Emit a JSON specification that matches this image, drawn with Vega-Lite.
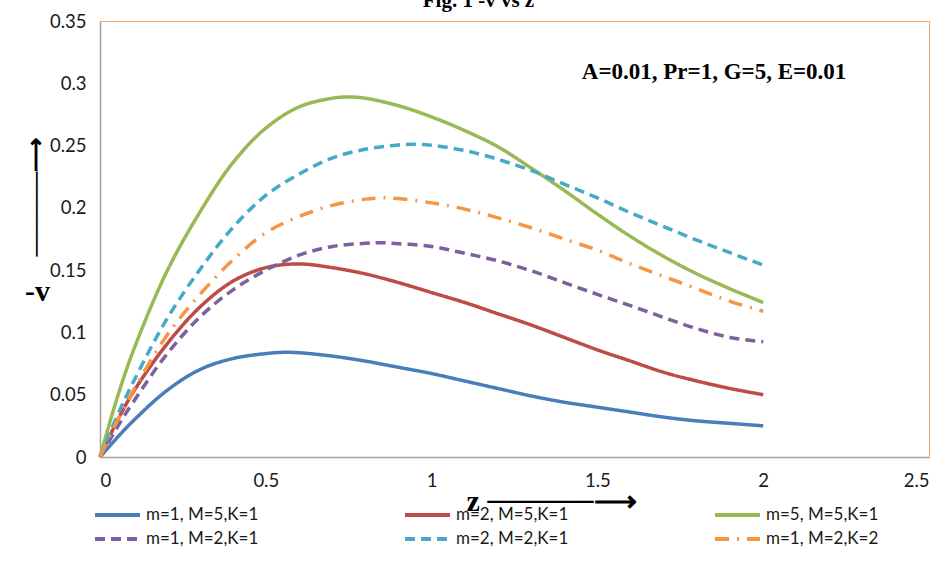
{
  "$schema": "https://vega.github.io/schema/vega-lite/v6.json",
  "width": 829,
  "height": 436,
  "autosize": {"type": "none"},
  "padding": {"left": 100, "top": 21, "right": 14, "bottom": 130},
  "background": "white",
  "title": {
    "text": "Fig. 1 -v vs z",
    "font": "Liberation Serif",
    "fontSize": 21,
    "fontWeight": "bold",
    "color": "#000000",
    "anchor": "middle",
    "frame": "group",
    "baseline": "alphabetic",
    "offset": -16,
    "dx": -36
  },
  "config": {
    "view": {"stroke": "#F2A66A", "strokeWidth": 1},
    "axis": {
      "grid": false,
      "ticks": false,
      "domainColor": "#A6A29C",
      "domainWidth": 1.5,
      "labelFont": "Lato",
      "labelFontSize": 18.5,
      "labelColor": "#1a1a1a",
      "format": "~g"
    },
    "legend": {
      "title": null,
      "orient": "none",
      "legendX": -7,
      "legendY": 484,
      "columns": 3,
      "direction": "horizontal",
      "gridAlign": "all",
      "columnPadding": 144,
      "rowPadding": 4,
      "clipHeight": 20,
      "symbolType": "stroke",
      "symbolStrokeWidth": 4,
      "symbolSize": 2025,
      "labelOffset": 4,
      "labelFont": "Lato",
      "labelFontSize": 17,
      "labelColor": "#1a1a1a"
    }
  },
  "layer": [
    {
      "data": {
        "values": [
          {"series": "m=1, M=5,K=1", "z": 0, "v": 0},
          {"series": "m=1, M=5,K=1", "z": 0.05, "v": 0.015},
          {"series": "m=1, M=5,K=1", "z": 0.1, "v": 0.029},
          {"series": "m=1, M=5,K=1", "z": 0.2, "v": 0.053},
          {"series": "m=1, M=5,K=1", "z": 0.3, "v": 0.07},
          {"series": "m=1, M=5,K=1", "z": 0.4, "v": 0.079},
          {"series": "m=1, M=5,K=1", "z": 0.5, "v": 0.083},
          {"series": "m=1, M=5,K=1", "z": 0.55, "v": 0.084},
          {"series": "m=1, M=5,K=1", "z": 0.6, "v": 0.0837},
          {"series": "m=1, M=5,K=1", "z": 0.7, "v": 0.081},
          {"series": "m=1, M=5,K=1", "z": 0.8, "v": 0.077},
          {"series": "m=1, M=5,K=1", "z": 0.9, "v": 0.072},
          {"series": "m=1, M=5,K=1", "z": 1.0, "v": 0.067},
          {"series": "m=1, M=5,K=1", "z": 1.1, "v": 0.061},
          {"series": "m=1, M=5,K=1", "z": 1.2, "v": 0.055},
          {"series": "m=1, M=5,K=1", "z": 1.3, "v": 0.049},
          {"series": "m=1, M=5,K=1", "z": 1.4, "v": 0.044},
          {"series": "m=1, M=5,K=1", "z": 1.5, "v": 0.04},
          {"series": "m=1, M=5,K=1", "z": 1.6, "v": 0.036},
          {"series": "m=1, M=5,K=1", "z": 1.7, "v": 0.032},
          {"series": "m=1, M=5,K=1", "z": 1.8, "v": 0.029},
          {"series": "m=1, M=5,K=1", "z": 1.9, "v": 0.027},
          {"series": "m=1, M=5,K=1", "z": 2.0, "v": 0.025},

          {"series": "m=2, M=5,K=1", "z": 0, "v": 0},
          {"series": "m=2, M=5,K=1", "z": 0.05, "v": 0.028},
          {"series": "m=2, M=5,K=1", "z": 0.1, "v": 0.052},
          {"series": "m=2, M=5,K=1", "z": 0.2, "v": 0.09},
          {"series": "m=2, M=5,K=1", "z": 0.3, "v": 0.12},
          {"series": "m=2, M=5,K=1", "z": 0.4, "v": 0.141},
          {"series": "m=2, M=5,K=1", "z": 0.5, "v": 0.152},
          {"series": "m=2, M=5,K=1", "z": 0.6, "v": 0.155},
          {"series": "m=2, M=5,K=1", "z": 0.7, "v": 0.152},
          {"series": "m=2, M=5,K=1", "z": 0.8, "v": 0.147},
          {"series": "m=2, M=5,K=1", "z": 0.9, "v": 0.14},
          {"series": "m=2, M=5,K=1", "z": 1.0, "v": 0.132},
          {"series": "m=2, M=5,K=1", "z": 1.1, "v": 0.124},
          {"series": "m=2, M=5,K=1", "z": 1.2, "v": 0.115},
          {"series": "m=2, M=5,K=1", "z": 1.3, "v": 0.106},
          {"series": "m=2, M=5,K=1", "z": 1.4, "v": 0.096},
          {"series": "m=2, M=5,K=1", "z": 1.5, "v": 0.086},
          {"series": "m=2, M=5,K=1", "z": 1.6, "v": 0.077},
          {"series": "m=2, M=5,K=1", "z": 1.7, "v": 0.068},
          {"series": "m=2, M=5,K=1", "z": 1.8, "v": 0.061},
          {"series": "m=2, M=5,K=1", "z": 1.9, "v": 0.055},
          {"series": "m=2, M=5,K=1", "z": 2.0, "v": 0.05},

          {"series": "m=5, M=5,K=1", "z": 0, "v": 0},
          {"series": "m=5, M=5,K=1", "z": 0.05, "v": 0.046},
          {"series": "m=5, M=5,K=1", "z": 0.1, "v": 0.085},
          {"series": "m=5, M=5,K=1", "z": 0.2, "v": 0.148},
          {"series": "m=5, M=5,K=1", "z": 0.3, "v": 0.196},
          {"series": "m=5, M=5,K=1", "z": 0.4, "v": 0.236},
          {"series": "m=5, M=5,K=1", "z": 0.5, "v": 0.264},
          {"series": "m=5, M=5,K=1", "z": 0.6, "v": 0.281},
          {"series": "m=5, M=5,K=1", "z": 0.7, "v": 0.288},
          {"series": "m=5, M=5,K=1", "z": 0.75, "v": 0.289},
          {"series": "m=5, M=5,K=1", "z": 0.8, "v": 0.288},
          {"series": "m=5, M=5,K=1", "z": 0.9, "v": 0.282},
          {"series": "m=5, M=5,K=1", "z": 1.0, "v": 0.273},
          {"series": "m=5, M=5,K=1", "z": 1.1, "v": 0.262},
          {"series": "m=5, M=5,K=1", "z": 1.2, "v": 0.249},
          {"series": "m=5, M=5,K=1", "z": 1.3, "v": 0.232},
          {"series": "m=5, M=5,K=1", "z": 1.4, "v": 0.214},
          {"series": "m=5, M=5,K=1", "z": 1.5, "v": 0.195},
          {"series": "m=5, M=5,K=1", "z": 1.6, "v": 0.177},
          {"series": "m=5, M=5,K=1", "z": 1.7, "v": 0.161},
          {"series": "m=5, M=5,K=1", "z": 1.8, "v": 0.147},
          {"series": "m=5, M=5,K=1", "z": 1.9, "v": 0.135},
          {"series": "m=5, M=5,K=1", "z": 2.0, "v": 0.124},

          {"series": "m=1, M=2,K=1", "z": 0, "v": 0},
          {"series": "m=1, M=2,K=1", "z": 0.05, "v": 0.023},
          {"series": "m=1, M=2,K=1", "z": 0.1, "v": 0.044},
          {"series": "m=1, M=2,K=1", "z": 0.2, "v": 0.082},
          {"series": "m=1, M=2,K=1", "z": 0.3, "v": 0.112},
          {"series": "m=1, M=2,K=1", "z": 0.4, "v": 0.134},
          {"series": "m=1, M=2,K=1", "z": 0.5, "v": 0.15},
          {"series": "m=1, M=2,K=1", "z": 0.6, "v": 0.162},
          {"series": "m=1, M=2,K=1", "z": 0.7, "v": 0.169},
          {"series": "m=1, M=2,K=1", "z": 0.8, "v": 0.1715},
          {"series": "m=1, M=2,K=1", "z": 0.85, "v": 0.172},
          {"series": "m=1, M=2,K=1", "z": 0.9, "v": 0.1712},
          {"series": "m=1, M=2,K=1", "z": 1.0, "v": 0.169},
          {"series": "m=1, M=2,K=1", "z": 1.1, "v": 0.1635},
          {"series": "m=1, M=2,K=1", "z": 1.2, "v": 0.1575},
          {"series": "m=1, M=2,K=1", "z": 1.3, "v": 0.1495},
          {"series": "m=1, M=2,K=1", "z": 1.4, "v": 0.14},
          {"series": "m=1, M=2,K=1", "z": 1.5, "v": 0.1305},
          {"series": "m=1, M=2,K=1", "z": 1.6, "v": 0.1215},
          {"series": "m=1, M=2,K=1", "z": 1.7, "v": 0.112},
          {"series": "m=1, M=2,K=1", "z": 1.8, "v": 0.103},
          {"series": "m=1, M=2,K=1", "z": 1.9, "v": 0.096},
          {"series": "m=1, M=2,K=1", "z": 2.0, "v": 0.0925},

          {"series": "m=2, M=2,K=1", "z": 0, "v": 0},
          {"series": "m=2, M=2,K=1", "z": 0.05, "v": 0.032},
          {"series": "m=2, M=2,K=1", "z": 0.1, "v": 0.06},
          {"series": "m=2, M=2,K=1", "z": 0.2, "v": 0.11},
          {"series": "m=2, M=2,K=1", "z": 0.3, "v": 0.15},
          {"series": "m=2, M=2,K=1", "z": 0.4, "v": 0.184},
          {"series": "m=2, M=2,K=1", "z": 0.5, "v": 0.21},
          {"series": "m=2, M=2,K=1", "z": 0.6, "v": 0.227},
          {"series": "m=2, M=2,K=1", "z": 0.7, "v": 0.24},
          {"series": "m=2, M=2,K=1", "z": 0.8, "v": 0.247},
          {"series": "m=2, M=2,K=1", "z": 0.9, "v": 0.2505},
          {"series": "m=2, M=2,K=1", "z": 0.95, "v": 0.251},
          {"series": "m=2, M=2,K=1", "z": 1.0, "v": 0.2503},
          {"series": "m=2, M=2,K=1", "z": 1.1, "v": 0.246},
          {"series": "m=2, M=2,K=1", "z": 1.2, "v": 0.239},
          {"series": "m=2, M=2,K=1", "z": 1.3, "v": 0.23},
          {"series": "m=2, M=2,K=1", "z": 1.4, "v": 0.219},
          {"series": "m=2, M=2,K=1", "z": 1.5, "v": 0.208},
          {"series": "m=2, M=2,K=1", "z": 1.6, "v": 0.196},
          {"series": "m=2, M=2,K=1", "z": 1.7, "v": 0.185},
          {"series": "m=2, M=2,K=1", "z": 1.8, "v": 0.174},
          {"series": "m=2, M=2,K=1", "z": 1.9, "v": 0.164},
          {"series": "m=2, M=2,K=1", "z": 2.0, "v": 0.154},

          {"series": "m=1, M=2,K=2", "z": 0, "v": 0},
          {"series": "m=1, M=2,K=2", "z": 0.05, "v": 0.028},
          {"series": "m=1, M=2,K=2", "z": 0.1, "v": 0.053},
          {"series": "m=1, M=2,K=2", "z": 0.2, "v": 0.097},
          {"series": "m=1, M=2,K=2", "z": 0.3, "v": 0.13},
          {"series": "m=1, M=2,K=2", "z": 0.4, "v": 0.158},
          {"series": "m=1, M=2,K=2", "z": 0.5, "v": 0.18},
          {"series": "m=1, M=2,K=2", "z": 0.6, "v": 0.193},
          {"series": "m=1, M=2,K=2", "z": 0.7, "v": 0.202},
          {"series": "m=1, M=2,K=2", "z": 0.8, "v": 0.207},
          {"series": "m=1, M=2,K=2", "z": 0.85, "v": 0.208},
          {"series": "m=1, M=2,K=2", "z": 0.9, "v": 0.2075},
          {"series": "m=1, M=2,K=2", "z": 1.0, "v": 0.204},
          {"series": "m=1, M=2,K=2", "z": 1.1, "v": 0.199},
          {"series": "m=1, M=2,K=2", "z": 1.2, "v": 0.192},
          {"series": "m=1, M=2,K=2", "z": 1.3, "v": 0.184},
          {"series": "m=1, M=2,K=2", "z": 1.4, "v": 0.175},
          {"series": "m=1, M=2,K=2", "z": 1.5, "v": 0.166},
          {"series": "m=1, M=2,K=2", "z": 1.6, "v": 0.155},
          {"series": "m=1, M=2,K=2", "z": 1.7, "v": 0.145},
          {"series": "m=1, M=2,K=2", "z": 1.8, "v": 0.135},
          {"series": "m=1, M=2,K=2", "z": 1.9, "v": 0.125},
          {"series": "m=1, M=2,K=2", "z": 2.0, "v": 0.117}
        ]
      },
      "mark": {"type": "line", "strokeWidth": 3.5, "interpolate": "catmull-rom"},
      "encoding": {
        "x": {
          "field": "z", "type": "quantitative",
          "scale": {"domain": [0, 2.5], "nice": false},
          "axis": {
            "values": [0, 0.5, 1, 1.5, 2, 2.5],
            "labelPadding": 14,
            "title": "z ─────⟶",
            "titleFont": "Liberation Serif",
            "titleFontSize": 30,
            "titleFontWeight": "bold",
            "titleColor": "#000000",
            "titleAnchor": "start",
            "titleAlign": "left",
            "titleBaseline": "alphabetic",
            "titleX": 366,
            "titleY": 53
          }
        },
        "y": {
          "field": "v", "type": "quantitative",
          "scale": {"domain": [0, 0.35], "nice": false},
          "axis": {
            "values": [0, 0.05, 0.1, 0.15, 0.2, 0.25, 0.3, 0.35],
            "labelPadding": 14,
            "title": "-v",
            "titleFont": "Liberation Serif",
            "titleFontSize": 30,
            "titleFontWeight": "bold",
            "titleColor": "#000000",
            "titleAngle": 0,
            "titleAlign": "center",
            "titleBaseline": "alphabetic",
            "titleX": -63,
            "titleY": 279
          }
        },
        "color": {
          "field": "series", "type": "nominal",
          "scale": {
            "domain": ["m=1, M=5,K=1", "m=2, M=5,K=1", "m=5, M=5,K=1", "m=1, M=2,K=1", "m=2, M=2,K=1", "m=1, M=2,K=2"],
            "range": ["#4A7EBB", "#BE4B48", "#98B954", "#7D60A0", "#46AAC5", "#F69544"]
          }
        },
        "strokeDash": {
          "field": "series", "type": "nominal",
          "scale": {
            "domain": ["m=1, M=5,K=1", "m=2, M=5,K=1", "m=5, M=5,K=1", "m=1, M=2,K=1", "m=2, M=2,K=1", "m=1, M=2,K=2"],
            "range": [[1, 0], [1, 0], [1, 0], [10, 6], [10, 6], [14, 8, 2, 8]]
          }
        }
      }
    },
    {
      "data": {"values": [{"note": "A=0.01, Pr=1, G=5, E=0.01"}]},
      "mark": {"type": "text", "align": "left", "baseline": "middle", "font": "Liberation Serif", "fontSize": 23, "fontWeight": "bold", "color": "#000000"},
      "encoding": {
        "x": {"datum": 1.453, "type": "quantitative"},
        "y": {"datum": 0.309, "type": "quantitative"},
        "text": {"field": "note"}
      }
    },
    {
      "data": {"values": [{"note": "─────⟶"}]},
      "mark": {"type": "text", "align": "center", "baseline": "middle", "angle": 270, "font": "Liberation Serif", "fontSize": 24, "fontWeight": "bold", "color": "#000000"},
      "encoding": {
        "x": {"datum": -0.1895, "type": "quantitative"},
        "y": {"datum": 0.2087, "type": "quantitative"},
        "text": {"field": "note"}
      }
    }
  ]
}
